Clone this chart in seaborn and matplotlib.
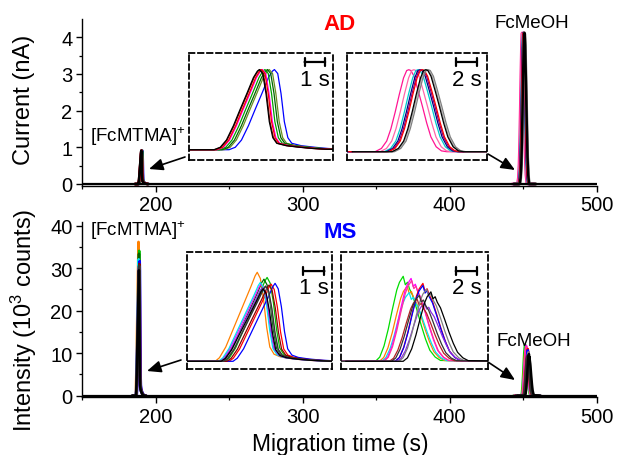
import numpy as np
import pandas as pd
import matplotlib
matplotlib.use("Agg")
import matplotlib.pyplot as plt
import seaborn as sns
from matplotlib.patches import FancyArrowPatch
from matplotlib.ticker import MultipleLocator

sns.set_style("ticks")
plt.rcParams["font.family"] = ["Liberation Sans", "DejaVu Sans"]
plt.rcParams["mathtext.default"] = "regular"
for k in ["text.color", "axes.labelcolor", "xtick.color", "ytick.color",
          "axes.edgecolor"]:
    plt.rcParams[k] = "black"

W, H = 617, 456

# ---------------- data ----------------
# peak shapes: time offset from apex (s) and normalised height
ad_mtma_t = [-4.5, -2.2, -1.9, -1.6, -1.26, -0.94, -0.61, -0.29, -0.1, 0.0, 0.16,
             0.32, 0.48, 0.65, 0.84, 1.3, 1.97, 2.6, 3.3, 4.5]
ad_mtma_y = [0, 0, 0.03, 0.12, 0.30, 0.50, 0.70, 0.90, 0.98, 1.0, 0.95,
             0.70, 0.35, 0.15, 0.08, 0.05, 0.03, 0.015, 0.005, 0]

ad_meoh_t = [-7, -3.2, -2.6, -2.1, -1.7, -1.3, -0.9, -0.5, -0.2, 0.0, 0.2, 0.5,
             0.9, 1.3, 1.7, 2.1, 2.6, 3.1, 3.6, 8]
ad_meoh_y = [0, 0, 0.04, 0.13, 0.28, 0.48, 0.70, 0.90, 0.99, 1.0, 0.99, 0.92,
             0.74, 0.55, 0.35, 0.18, 0.06, 0.01, 0, 0]

ms_mtma_t = [-4.5, -2.0, -1.8, -1.5, -1.2, -0.9, -0.6, -0.3, -0.1, 0.0, 0.15, 0.3,
             0.45, 0.6, 0.8, 1.1, 1.6, 2.2, 2.8, 3.4, 4.5]
ms_mtma_y = [0, 0, 0.04, 0.16, 0.33, 0.50, 0.67, 0.84, 0.96, 1.0, 0.93, 0.70,
             0.38, 0.16, 0.08, 0.05, 0.03, 0.015, 0.006, 0, 0]

ms_meoh_t = [-8, -2.6, -2.2, -1.8, -1.4, -1.0, -0.6, -0.35, -0.15, 0.0, 0.2, 0.4,
             0.6, 0.9, 1.3, 1.7, 2.1, 2.5, 3.0, 3.5, 8]
ms_meoh_y = [0, 0, 0.05, 0.18, 0.38, 0.62, 0.84, 0.93, 0.97, 1.0, 0.90, 0.93,
             0.85, 0.77, 0.60, 0.42, 0.26, 0.13, 0.05, 0.01, 0]

# AD, [FcMTMA]+ runs
ad_mtma_colors = ["#0000FF", "#6B8E23", "#006400", "#00A000", "#FF00FF",
                  "#FF0000", "#800000", "#000000"]
ad_mtma_apex = [190.93, 190.68, 190.59, 190.47, 190.35, 190.31, 190.23, 190.20]
ad_mtma_height = [0.91, 0.91, 0.91, 0.91, 0.91, 0.91, 0.91, 0.91]

# AD, FcMeOH runs
ad_meoh_colors = ["#FF1493", "#FF66AA", "#00CCCC", "#000080", "#800080",
                  "#FF0000", "#A0A0A0", "#808080", "#000000"]
ad_meoh_apex = [449.20, 449.68, 450.07, 450.26, 450.39, 450.49, 450.90, 451.04, 450.81]
ad_meoh_height = [4.12, 4.12, 4.12, 4.12, 4.12, 4.12, 4.12, 4.12, 4.12]

# MS, [FcMTMA]+ runs
ms_mtma_colors = ["#FF8000", "#00C000", "#006400", "#FF0000", "#FF00FF",
                  "#00E5EE", "#0000FF", "#8A2BE2", "#8B0000", "#808080",
                  "#333333", "#000000"]
ms_mtma_apex = [188.30, 188.77, 188.62, 188.96, 188.49, 188.45, 189.15, 188.54,
                188.86, 188.68, 188.70, 188.58]
ms_mtma_height = [36.2, 34.1, 33.4, 31.4, 31.5, 32.1, 31.7, 30.0, 31.0, 30.5,
                  30.6, 29.5]

# MS, FcMeOH runs
ms_meoh_colors = ["#00DD00", "#FF8000", "#00E5EE", "#FF00FF", "#FF3399",
                  "#FF0000", "#0000FF", "#8A2BE2", "#B22222", "#808080",
                  "#333333", "#000000"]
ms_meoh_apex = [451.30, 451.67, 451.86, 452.04, 452.10, 453.15, 453.15, 453.30,
                452.60, 453.50, 452.80, 453.90]
ms_meoh_height = [12.0, 10.6, 9.7, 11.7, 11.4, 11.0, 10.7, 8.2, 8.8, 10.2, 9.3, 9.8]

baseline_t = [150, 500]
baseline_y = [0, 0]

x_ticks = [200, 300, 400, 500]
ad_yticks = [0, 1, 2, 3, 4]
ms_yticks = [0, 10, 20, 30, 40]


def frame(prof_t, prof_y, apex, height, tag):
    rows = []
    for i, (c, h) in enumerate(zip(apex, height)):
        for t, y in zip(prof_t, prof_y):
            rows.append((f"{tag}{i}", c + t, h * y))
    return pd.DataFrame(rows, columns=["run", "t", "y"])


def draw(ax, df, colors, lw):
    names = list(dict.fromkeys(df["run"]))
    sns.lineplot(data=df, x="t", y="y", hue="run", hue_order=names,
                 palette=dict(zip(names, colors)), estimator=None, sort=False,
                 legend=False, linewidth=lw, ax=ax)
    ax.set_xlabel("")
    ax.set_ylabel("")


df_ad_mtma = frame(ad_mtma_t, ad_mtma_y, ad_mtma_apex, ad_mtma_height, "a")
df_ad_meoh = frame(ad_meoh_t, ad_meoh_y, ad_meoh_apex, ad_meoh_height, "b")
df_ms_mtma = frame(ms_mtma_t, ms_mtma_y, ms_mtma_apex, ms_mtma_height, "c")
df_ms_meoh = frame(ms_meoh_t, ms_meoh_y, ms_meoh_apex, ms_meoh_height, "d")

fig = plt.figure(figsize=(W / 100, H / 100), dpi=100)
fig.patch.set_facecolor("white")


def px_axes(x0, y0, x1, y1):
    return fig.add_axes([x0 / W, 1 - y1 / H, (x1 - x0) / W, (y1 - y0) / H])


def fp(x, y):
    return (x / W, 1 - y / H)


ax_ad = px_axes(82.2, 20, 596.7, 186.5)
ax_ms = px_axes(82.2, 223, 596.7, 398)

for ax, dfs, cols, yl, yt, ymin in [
        (ax_ad, [df_ad_mtma, df_ad_meoh], [ad_mtma_colors, ad_meoh_colors],
         (-0.041, 4.499), ad_yticks, 0.5),
        (ax_ms, [df_ms_mtma, df_ms_meoh], [ms_mtma_colors, ms_meoh_colors],
         (-0.31, 40.87), ms_yticks, 5)]:
    for d, c in zip(dfs, cols):
        draw(ax, d, c, 1.8)
    sns.lineplot(x=baseline_t, y=baseline_y, color="black", linewidth=1.6,
                 ax=ax, estimator=None, sort=False)
    ax.set_xlim(150, 500)
    ax.set_ylim(*yl)
    ax.set_xticks(x_ticks)
    ax.set_yticks(yt)
    ax.xaxis.set_minor_locator(MultipleLocator(50))
    ax.yaxis.set_minor_locator(MultipleLocator(ymin))
    sns.despine(ax=ax)
    for s in ["left", "bottom"]:
        ax.spines[s].set_linewidth(1.0)
        ax.spines[s].set_color("black")
    ax.tick_params(which="major", direction="out", length=4, width=1.0,
                   labelsize=14.5, pad=3, color="black", labelcolor="black")
    ax.tick_params(which="minor", direction="out", length=2.2, width=0.9,
                   color="black")
    ax.set_xlabel("")
    ax.set_ylabel("")

# ---------------- insets ----------------
insets = [
    ((189.3, 54, 333.4, 161), df_ad_mtma, ad_mtma_colors, (186.8, 193.79),
     (-0.117, 1.098), (192.39, 193.39), 0.916, 0.757, "1 s"),
    ((346.7, 54, 486.7, 161), df_ad_meoh, ad_meoh_colors, (443.3, 456.6),
     (-0.417, 4.96), (453.68, 455.68), 0.916, 0.757, "2 s"),
    ((187.3, 252.7, 332.2, 370), df_ms_mtma, ms_mtma_colors, (184.97, 191.87),
     (-3.13, 44.57), (190.5, 191.5), 0.835, 0.699, "1 s"),
    ((341.3, 252.7, 488, 370), df_ms_meoh, ms_meoh_colors, (445.49, 459.26),
     (-1.087, 15.47), (456.23, 458.23), 0.835, 0.699, "2 s"),
]
for box, d, cols, xl, yl, bar, ybar, ytxt, lab in insets:
    ia = px_axes(*box)
    ia.set_facecolor("white")
    draw(ia, d, cols, 0.9)
    ia.set_xlim(*xl)
    ia.set_ylim(*yl)
    ia.set_xticks([])
    ia.set_yticks([])
    for sp in ia.spines.values():
        sp.set_visible(True)
        sp.set_linewidth(1.3)
        sp.set_linestyle((0, (3, 2)))
        sp.set_edgecolor("black")
    tr = ia.get_xaxis_transform()
    ia.annotate("", xy=(bar[0], ybar), xytext=(bar[1], ybar), xycoords=tr,
                textcoords=tr,
                arrowprops=dict(arrowstyle="|-|,widthA=0.3,widthB=0.3",
                                lw=1.6, color="black", shrinkA=0, shrinkB=0))
    ia.text((bar[0] + bar[1]) / 2, ytxt, lab, transform=tr, ha="center",
            va="center", fontsize=16, color="black")

# ---------------- arrows ----------------
for tail, head in [((185, 158), (149, 170)), ((488, 155), (515, 171)),
                   ((181, 361), (147, 372)), ((488, 363), (515, 381))]:
    fig.add_artist(FancyArrowPatch(fp(*tail), fp(*head),
                                   transform=fig.transFigure,
                                   arrowstyle="-|>,head_length=0.7,head_width=0.3",
                                   mutation_scale=12, lw=1.2, color="black",
                                   shrinkA=0, shrinkB=0, zorder=5))

# ---------------- texts ----------------
fig.text(*fp(339, 25), "AD", color="#FF0000", fontsize=16, fontweight="bold",
         ha="center", va="center")
fig.text(*fp(340, 233), "MS", color="#0000FF", fontsize=16, fontweight="bold",
         ha="center", va="center")
fig.text(*fp(532, 23), "FcMeOH", fontsize=13.5, ha="center", va="center")
fig.text(*fp(534, 341), "FcMeOH", fontsize=13.5, ha="center", va="center")
fig.text(*fp(138, 137), "[FcMTMA]$^{+}$", fontsize=13.5, ha="center", va="center")
fig.text(*fp(138, 231), "[FcMTMA]$^{+}$", fontsize=13.5, ha="center", va="center")
fig.text(*fp(24, 100), "Current (nA)", fontsize=17, rotation=90,
         ha="center", va="center")
fig.text(*fp(24, 320), "Intensity (10$^{3}$ counts)", fontsize=17, rotation=90,
         ha="center", va="center")
fig.text(*fp(340, 445), "Migration time (s)", fontsize=16.5, ha="center",
         va="center")

fig.savefig("out.png", dpi=100, facecolor="white")
